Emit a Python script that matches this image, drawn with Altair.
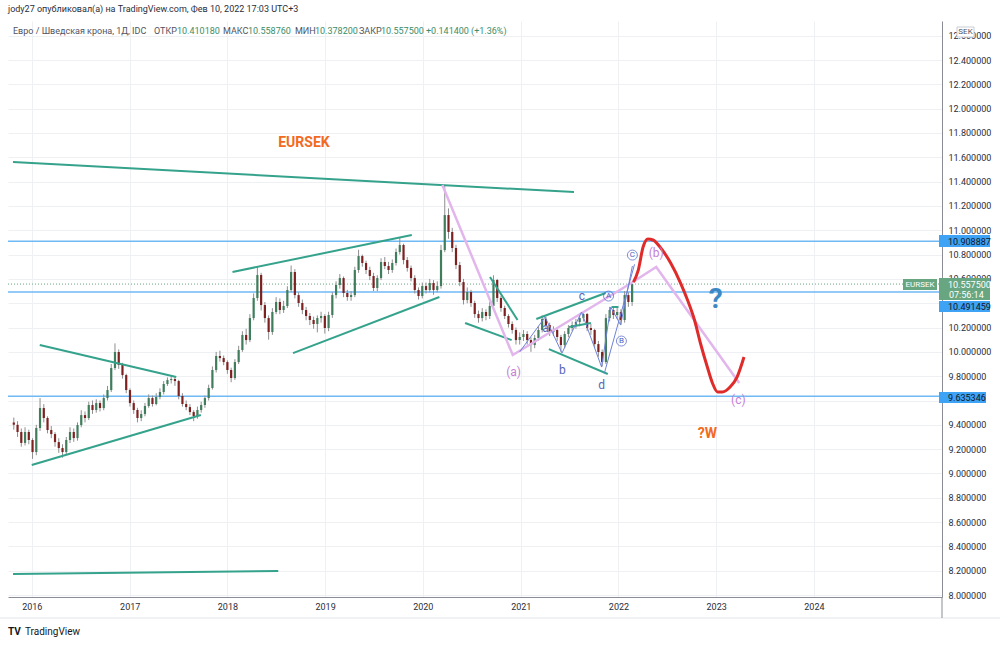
import altair as alt
import pandas as pd

# ---------------- candle data (bi-weekly bars) ----------------
first_open = 9.42
close = [
    9.400, 9.341, 9.251, 9.341, 9.275, 9.176, 9.374, 9.538, 9.456, 9.357,
    9.324, 9.258, 9.209, 9.176, 9.275, 9.341, 9.291, 9.398, 9.480, 9.456,
    9.563, 9.522, 9.579, 9.538, 9.620, 9.686, 9.867, 9.999, 9.892, 9.809,
    9.686, 9.579, 9.522, 9.456, 9.489, 9.555, 9.620, 9.571, 9.629, 9.670,
    9.736, 9.768, 9.777, 9.760, 9.637, 9.571, 9.546, 9.505, 9.472, 9.522,
    9.563, 9.620, 9.703, 9.851, 9.966, 9.949, 9.916, 9.851, 9.785, 9.916,
    10.015, 10.139, 10.097, 10.278, 10.443, 10.632, 10.385, 10.278, 10.163, 10.328,
    10.410, 10.344, 10.377, 10.509, 10.657, 10.467, 10.402, 10.344, 10.295, 10.262,
    10.229, 10.278, 10.295, 10.196, 10.303, 10.467, 10.550, 10.607, 10.484, 10.451,
    10.467, 10.673, 10.788, 10.731, 10.673, 10.624, 10.525, 10.607, 10.739, 10.706,
    10.673, 10.731, 10.821, 10.879, 10.755, 10.690, 10.607, 10.509, 10.459, 10.541,
    10.509, 10.566, 10.509, 10.541, 10.837, 11.125, 10.986, 10.854, 10.714, 10.574,
    10.426, 10.492, 10.402, 10.311, 10.278, 10.328, 10.295, 10.377, 10.591, 10.443,
    10.361, 10.295, 10.229, 10.180, 10.097, 10.122, 10.147, 10.097, 10.056, 10.114,
    10.180, 10.270, 10.221, 10.163, 10.180, 10.122, 10.056, 10.147, 10.196, 10.221,
    10.246, 10.278, 10.311, 10.196, 10.180, 10.064, 9.999, 9.916, 10.278, 10.344,
    10.303, 10.328, 10.262, 10.467, 10.410, 10.5575]
high = [
    9.46, 9.43, 9.37, 9.38, 9.36, 9.29, 9.40, 9.62, 9.57, 9.47,
    9.39, 9.34, 9.29, 9.24, 9.30, 9.38, 9.37, 9.42, 9.52, 9.51,
    9.59, 9.60, 9.61, 9.60, 9.65, 9.72, 9.90, 10.07, 10.02, 9.91,
    9.82, 9.70, 9.60, 9.54, 9.52, 9.58, 9.65, 9.64, 9.66, 9.70,
    9.76, 9.79, 9.80, 9.80, 9.77, 9.66, 9.60, 9.57, 9.52, 9.55,
    9.59, 9.64, 9.73, 9.88, 10.00, 10.01, 9.97, 9.93, 9.87, 9.94,
    10.05, 10.17, 10.19, 10.31, 10.48, 10.70, 10.65, 10.41, 10.30, 10.36,
    10.45, 10.44, 10.42, 10.54, 10.71, 10.68, 10.49, 10.43, 10.37, 10.32,
    10.29, 10.30, 10.33, 10.31, 10.33, 10.49, 10.58, 10.64, 10.62, 10.51,
    10.50, 10.70, 10.84, 10.80, 10.75, 10.70, 10.65, 10.63, 10.77, 10.78,
    10.74, 10.76, 10.85, 10.94, 10.89, 10.78, 10.71, 10.63, 10.53, 10.57,
    10.57, 10.60, 10.59, 10.58, 10.88, 11.37, 11.18, 11.02, 10.88, 10.74,
    10.60, 10.53, 10.51, 10.42, 10.34, 10.36, 10.35, 10.41, 10.63, 10.60,
    10.46, 10.38, 10.31, 10.25, 10.20, 10.16, 10.18, 10.17, 10.12, 10.14,
    10.21, 10.30, 10.29, 10.24, 10.21, 10.20, 10.14, 10.17, 10.22, 10.25,
    10.27, 10.30, 10.33, 10.32, 10.23, 10.19, 10.09, 10.02, 10.31, 10.37,
    10.37, 10.36, 10.35, 10.50, 10.49, 10.5588]
low = [
    9.36, 9.30, 9.22, 9.23, 9.24, 9.12, 9.15, 9.35, 9.42, 9.33,
    9.29, 9.22, 9.17, 9.13, 9.16, 9.25, 9.26, 9.27, 9.38, 9.42,
    9.44, 9.49, 9.50, 9.51, 9.52, 9.60, 9.67, 9.85, 9.86, 9.78,
    9.66, 9.55, 9.49, 9.42, 9.43, 9.47, 9.54, 9.55, 9.56, 9.61,
    9.65, 9.72, 9.74, 9.72, 9.61, 9.55, 9.52, 9.48, 9.43, 9.45,
    9.50, 9.54, 9.60, 9.69, 9.83, 9.92, 9.89, 9.82, 9.75, 9.77,
    9.90, 10.00, 10.06, 10.08, 10.26, 10.42, 10.34, 10.24, 10.10, 10.14,
    10.31, 10.31, 10.32, 10.36, 10.49, 10.44, 10.37, 10.31, 10.26, 10.22,
    10.19, 10.16, 10.24, 10.15, 10.17, 10.28, 10.44, 10.52, 10.45, 10.42,
    10.42, 10.45, 10.65, 10.70, 10.64, 10.59, 10.50, 10.50, 10.59, 10.68,
    10.64, 10.65, 10.71, 10.80, 10.72, 10.66, 10.58, 10.48, 10.43, 10.44,
    10.48, 10.49, 10.47, 10.49, 10.52, 10.82, 10.93, 10.82, 10.68, 10.54,
    10.39, 10.40, 10.37, 10.28, 10.24, 10.25, 10.26, 10.27, 10.36, 10.41,
    10.33, 10.27, 10.20, 10.15, 10.06, 10.06, 10.09, 10.06, 10.00, 10.03,
    10.09, 10.16, 10.19, 10.13, 10.13, 10.09, 10.00, 10.03, 10.12, 10.17,
    10.19, 10.21, 10.25, 10.17, 10.14, 10.03, 9.96, 9.88, 9.90, 10.25,
    10.27, 10.27, 10.22, 10.24, 10.37, 10.378]
bar_dates = pd.date_range("2015-10-26", periods=len(close), freq="14D").strftime("%Y-%m-%d").tolist()

# ---------------- drawings ----------------
trend_id = [1, 1, 2, 2, 3, 3, 4, 4, 5, 5, 6, 6, 7, 7, 8, 8, 9, 9, 10, 10, 11, 11, 12, 12]
trend_date = ["2015-10-23", "2021-07-19", "2015-10-23", "2018-07-10",
              "2016-01-31", "2017-06-24", "2016-01-01", "2017-09-24",
              "2018-01-20", "2019-11-21", "2018-09-03", "2020-03-03",
              "2020-09-08", "2020-12-20", "2020-06-07", "2020-11-28",
              "2021-02-28", "2021-11-14", "2021-04-16", "2021-11-22",
              "2021-12-06", "2022-01-01", "2021-06-30", "2021-09-20"]
trend_price = [11.561, 11.314, 8.173, 8.198,
               10.056, 9.793, 9.069, 9.481,
               10.657, 10.961, 9.990, 10.451,
               10.616, 10.262, 10.237, 10.097,
               10.270, 10.484, 10.023, 9.818,
               10.369, 10.369, 10.204, 10.237]

pink_date = ["2020-03-14", "2020-12-02", "2022-02-18", "2022-05-22", "2023-03-28"]
pink_price = [11.372, 9.974, 10.566, 10.698, 9.744]

blue_id = [1, 1, 1, 1, 1, 1, 1, 1, 2, 2]
blue_date = ["2020-12-28", "2021-04-02", "2021-06-04", "2021-08-16", "2021-10-30",
             "2021-12-03", "2022-01-09", "2022-02-22", "2021-11-10", "2022-03-02"]
blue_price = [10.000, 10.286, 9.990, 10.328, 9.875, 10.369, 10.221, 10.706, 9.83, 10.72]

red_date = ["2022-02-26", "2022-03-16", "2022-04-03", "2022-04-21", "2022-05-10",
            "2022-06-08", "2022-07-15", "2022-08-21", "2022-09-16", "2022-10-12",
            "2022-11-03", "2022-11-29", "2022-12-18", "2023-01-06", "2023-01-24",
            "2023-02-22", "2023-03-20", "2023-04-15"]
red_price = [10.574, 10.673, 10.862, 10.928, 10.920, 10.854, 10.731, 10.566, 10.426,
             10.262, 10.073, 9.875, 9.744, 9.670, 9.670, 9.711, 9.793, 9.958]

hlines = [10.908887, 10.491459, 9.635346]
last_price = 10.5575

purple_lbl = ["(a)", "(b)", "(c)"]
purple_date = ["2020-12-05", "2022-05-22", "2023-03-25"]
purple_price = [9.834, 10.813, 9.604]

wave_lbl = ["a", "b", "c", "d"]
wave_date = ["2021-04-03", "2021-06-05", "2021-08-17", "2021-10-30"]
wave_price = [10.196, 9.851, 10.459, 9.727]

circ_lbl = ["A", "B", "C"]
circ_date = ["2021-11-25", "2022-01-12", "2022-02-22"]
circ_price = [10.459, 10.089, 10.796]

year_ticks = list(range(2016, 2025))
price_ticks = [round(8.0 + 0.2 * i, 1) for i in range(24)]

# ---------------- styles ----------------
FONT = "Roboto"
UP, DOWN, WICK = "#3f7d5c", "#7d2020", "#8e8e8e"
TEAL = "#35a28c"
X0, Y0 = 8, 21
W, H = 934, 576

xs = alt.Scale(type="utc", domain=[alt.DateTime(year=2015, month=10, date=23, utc=True),
                                   alt.DateTime(year=2025, month=4, date=5, utc=True)])
xaxis = alt.Axis(values=[alt.DateTime(year=y, month=1, date=1, utc=True) for y in year_ticks],
                 format="%Y", formatType="utc", labelFont=FONT, labelFontSize=9,
                 labelColor="#2a2e39", labelPadding=5, ticks=False, domainColor="#8a8d96",
                 gridColor="#eef0f3", labelAlign="center", labelFlush=False)
ys = alt.Scale(domain=[7.984, 12.721], nice=False, zero=False)
# labels that sit under the price tags (10.4 and 9.6) are hidden, as in the reference
yaxis = alt.Axis(orient="right", values=price_ticks, format=".6f", labelFont=FONT,
                 labelFontSize=9, labelColor="#2a2e39", labelPadding=6, ticks=False,
                 domainColor="#8a8d96", gridColor="#eef0f3", labelFlush=False,
                 labelExpr="(abs(datum.value - 10.4) < 0.01 || abs(datum.value - 9.6) < 0.01) ? '' : datum.label")


def X(field):
    return alt.X(field, type="temporal", scale=xs, axis=xaxis, title=None)


def Y(field):
    return alt.Y(field, type="quantitative", scale=ys, axis=yaxis, title=None)


def pv(v):
    return alt.value(v)


bars = pd.DataFrame({"date": bar_dates, "open": [first_open] + close[:-1],
                     "close": close, "high": high, "low": low})
one = pd.DataFrame({"k": [0]})

layers = []

# horizontal levels
hl = pd.DataFrame({"p": hlines})
layers.append(alt.Chart(hl).mark_rule(color="#6fb9f5", strokeWidth=1.5).encode(y=Y("p")))
layers.append(alt.Chart(pd.DataFrame({"p": [last_price]})).mark_rule(
    color="#6aa882", strokeWidth=1, strokeDash=[1, 2]).encode(y=Y("p")))

# candles
base = alt.Chart(bars).encode(x=X("date"))
layers.append(base.mark_rule(color=WICK, strokeWidth=1).encode(y=Y("low"), y2="high"))
layers.append(base.mark_bar(size=2.2).encode(
    y=Y("open"), y2="close",
    color=alt.condition("datum.close >= datum.open", alt.value(UP), alt.value(DOWN))))

# trend lines
tr = pd.DataFrame({"id": trend_id, "date": trend_date, "p": trend_price})
layers.append(alt.Chart(tr).mark_line(color=TEAL, strokeWidth=2).encode(
    x=X("date"), y=Y("p"), detail="id:N"))

# pink path
pk = pd.DataFrame({"date": pink_date, "p": pink_price, "o": list(range(len(pink_date)))})
layers.append(alt.Chart(pk).mark_line(color="#e2b6ec", strokeWidth=2.5).encode(
    x=X("date"), y=Y("p"), order="o:Q"))

# thin blue wave path
bl = pd.DataFrame({"id": blue_id, "date": blue_date, "p": blue_price})
layers.append(alt.Chart(bl).mark_line(color="#6f82d6", strokeWidth=1).encode(
    x=X("date"), y=Y("p"), detail="id:N"))

# red projection
rd = pd.DataFrame({"date": red_date, "p": red_price})
layers.append(alt.Chart(rd).mark_line(color="#e02b2b", strokeWidth=3, interpolate="monotone").encode(
    x=X("date"), y=Y("p")))

# labels
layers.append(alt.Chart(pd.DataFrame({"date": ["2018-10-14"], "p": [11.717], "t": ["EURSEK"]})).mark_text(
    font=FONT, fontSize=14, fontWeight="bold", color="#f26a21").encode(x=X("date"), y=Y("p"), text="t:N"))
layers.append(alt.Chart(pd.DataFrame({"date": ["2022-11-29"], "p": [9.324], "t": ["?W"]})).mark_text(
    font=FONT, fontSize=14, fontWeight="bold", color="#f26a21").encode(x=X("date"), y=Y("p"), text="t:N"))
layers.append(alt.Chart(pd.DataFrame({"date": ["2022-12-30"], "p": [10.426], "t": ["?"]})).mark_text(
    font=FONT, fontSize=28, fontWeight="bold", color="#3d87c4").encode(x=X("date"), y=Y("p"), text="t:N"))
pl = pd.DataFrame({"date": purple_date, "p": purple_price, "t": purple_lbl})
layers.append(alt.Chart(pl).mark_text(font=FONT, fontSize=12, color="#c57fd6").encode(
    x=X("date"), y=Y("p"), text="t:N"))
wl = pd.DataFrame({"date": wave_date, "p": wave_price, "t": wave_lbl})
layers.append(alt.Chart(wl).mark_text(font=FONT, fontSize=12, color="#5566b8").encode(
    x=X("date"), y=Y("p"), text="t:N"))
cl = pd.DataFrame({"date": circ_date, "p": circ_price, "t": circ_lbl})
layers.append(alt.Chart(cl).mark_point(shape="circle", size=100, filled=False, color="#4a5fc4",
                                       strokeWidth=1).encode(x=X("date"), y=Y("p")))
layers.append(alt.Chart(cl).mark_text(font=FONT, fontSize=8, color="#4a5fc4").encode(
    x=X("date"), y=Y("p"), text="t:N"))


# right-axis price tags
def box(x1, x2, y1, y2, color, stroke=None):
    kw = {"color": color}
    if stroke:
        kw.update(stroke=stroke, strokeWidth=1)
    return alt.Chart(one).mark_rect(**kw).encode(
        x=pv(x1 - X0), x2=pv(x2 - X0), y=pv(y1 - Y0), y2=pv(y2 - Y0))


def label(x, y, t, color, size=9, align="left", weight="normal"):
    return alt.Chart(one).mark_text(font=FONT, fontSize=size, color=color, align=align,
                                    baseline="middle", fontWeight=weight).encode(
        x=pv(x - X0), y=pv(y - Y0), text=alt.value(t))


layers += [
    box(939, 990, 235, 247, "#3ea2f5"), label(948, 241.5, "10.908887", "#131722"),
    box(939, 990, 278, 300, "#68a681"), label(948, 284.5, "10.557500", "white"),
    label(949, 295, "07:56:14", "white"),
    box(903, 937, 279, 290, "#68a681"), label(920, 284.5, "EURSEK", "white", size=8, align="center"),
    box(939, 990, 301, 312, "#3ea2f5"), label(948, 306.5, "10.491459", "#131722"),
    box(939, 986, 392, 403, "#3ea2f5"), label(948, 397.5, "9.635346", "#131722"),
    box(957, 974, 27, 37, "white", stroke="#c9ccd4"), label(965.5, 32, "SEK", "#50535e", size=8, align="center"),
]

# chrome lines
layers.append(alt.Chart(one).mark_rule(color="#e3e5ea", strokeWidth=1).encode(
    x=pv(0 - X0), x2=pv(1000 - X0), y=pv(618 - Y0)))
layers.append(alt.Chart(one).mark_rule(color="#8a8d96", strokeWidth=1).encode(
    x=pv(W), y=pv(H), y2=pv(618 - Y0)))

# header texts
GRAY, GREEN = "#50535e", "#3c8d68"
layers.append(label(8, 9, "jody27 опубликовал(а) на TradingView.com, Фев 10, 2022 17:03 UTC+3", "#2a2e39"))
hdr = [(13, "Евро / Шведская крона, 1Д, IDC", GRAY), (154, "ОТКР", GRAY), (177, "10.410180", GREEN),
       (223, "МАКС", GRAY), (248, "10.558760", GREEN), (295, "МИН", GRAY), (315, "10.378200", GREEN),
       (359, "ЗАКР", GRAY), (381, "10.557500", GREEN), (426, "+0.141400 (+1.36%)", GREEN)]
for hx, ht, hc in hdr:
    layers.append(label(hx, 31, ht, hc))
layers.append(label(8, 632, "TV", "#131722", size=10, weight="bold"))
layers.append(label(25, 632, "TradingView", "#131722", size=10))

chart = alt.layer(*layers).properties(
    width=W, height=H,
    autosize=alt.AutoSizeParams(type="none"),
    padding={"left": X0, "top": Y0, "right": 1000 - X0 - W, "bottom": 645 - Y0 - H},
    background="white",
).configure_view(strokeWidth=0)

chart.save("out.html", embed_options={"renderer": "svg", "actions": False})
